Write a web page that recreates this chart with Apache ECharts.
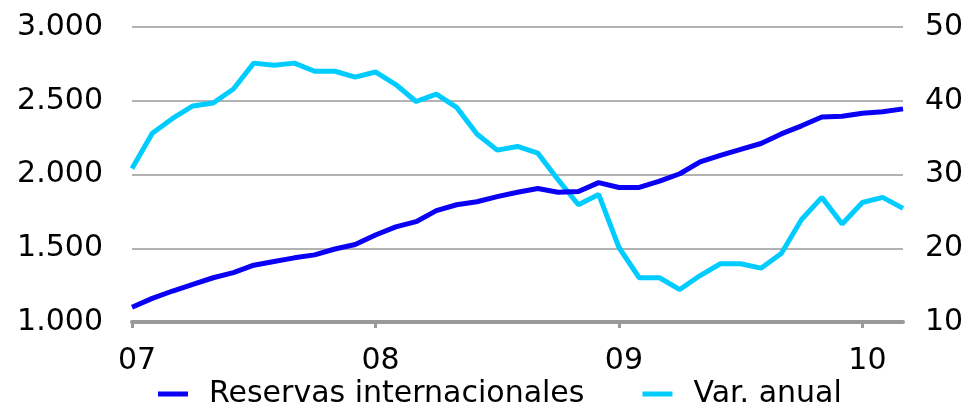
<!DOCTYPE html>
<html>
<head>
<meta charset="utf-8">
<script src="https://cdn.jsdelivr.net/npm/echarts@6/dist/echarts.min.js"></script>
<style>
  html, body { margin: 0; padding: 0; background: #fff; }
  #chart { width: 967px; height: 408px; }
</style>
</head>
<body>
<div id="chart"></div>
<script>
// monthly, Jan 2007 .. Mar 2010
var months = [
  "2007-01","2007-02","2007-03","2007-04","2007-05","2007-06","2007-07","2007-08","2007-09","2007-10","2007-11","2007-12",
  "2008-01","2008-02","2008-03","2008-04","2008-05","2008-06","2008-07","2008-08","2008-09","2008-10","2008-11","2008-12",
  "2009-01","2009-02","2009-03","2009-04","2009-05","2009-06","2009-07","2009-08","2009-09","2009-10","2009-11","2009-12",
  "2010-01","2010-02","2010-03"
];
var reservas = [
  1100, 1160, 1210, 1255, 1300, 1335, 1385, 1410, 1435, 1455, 1495, 1525,
  1590, 1645, 1680, 1755, 1795, 1815, 1850, 1880, 1905, 1880, 1885, 1945,
  1912, 1912, 1955, 2005, 2085, 2130, 2170, 2210, 2275, 2330, 2390, 2395,
  2415, 2425, 2445
];
var varAnual = [
  30.8, 35.6, 37.6, 39.3, 39.7, 41.6, 45.1, 44.8, 45.1, 44.0, 44.0, 43.2,
  43.9, 42.2, 39.9, 40.9, 39.1, 35.5, 33.3, 33.8, 32.9, 29.3, 25.9, 27.3,
  20.1, 16.0, 16.0, 14.4, 16.3, 17.9, 17.9, 17.3, 19.3, 23.9, 26.9, 23.3,
  26.2, 26.9, 25.4
];
var yearLabels = { "2007-01": "07", "2008-01": "08", "2009-01": "09", "2010-01": "10" };

var chart = echarts.init(document.getElementById("chart"));
var font = "DejaVu Sans";

var option = {
  animation: false,
  textStyle: { fontFamily: font },
  color: ["#0a00f5", "#00ccff"],
  grid: { left: 132, right: 64, top: 27, bottom: 86 },
  legend: {
    bottom: -6,
    left: 153,
    itemWidth: 30,
    itemHeight: 5,
    itemGap: 58,
    icon: "rect",
    textStyle: { fontSize: 30, color: "#000", fontFamily: font, padding: [0, 0, 0, 16] },
    data: ["Reservas internacionales", "Var. anual"]
  },
  xAxis: {
    type: "category",
    data: months,
    boundaryGap: false,
    axisLine: { lineStyle: { color: "#999", width: 4 } },
    axisTick: {
      length: 6,
      lineStyle: { color: "#999", width: 3 },
      interval: function (i, v) { return !!yearLabels[v]; }
    },
    axisLabel: {
      interval: function (i, v) { return !!yearLabels[v]; },
      formatter: function (v) { return yearLabels[v] || ""; },
      fontSize: 30,
      color: "#000",
      margin: 24,
      padding: [0, 0, 0, 10],
      fontFamily: font
    },
    splitLine: { show: false }
  },
  yAxis: [
    {
      type: "value",
      min: 1000,
      max: 3000,
      interval: 500,
      axisLine: { show: false },
      axisTick: { show: false },
      axisLabel: {
        fontSize: 30,
        color: "#000",
        margin: 29,
        fontFamily: font,
        formatter: function (v) { return (v / 1000).toFixed(3); }
      },
      splitLine: { lineStyle: { color: "#999", width: 1.5 } }
    },
    {
      type: "value",
      min: 10,
      max: 50,
      interval: 10,
      axisLine: { show: false },
      axisTick: { show: false },
      axisLabel: { fontSize: 30, color: "#000", margin: 22, fontFamily: font },
      splitLine: { show: false }
    }
  ],
  series: [
    {
      name: "Reservas internacionales",
      type: "line",
      yAxisIndex: 0,
      data: reservas,
      symbol: "none",
      lineStyle: { width: 5 },
      z: 3
    },
    {
      name: "Var. anual",
      type: "line",
      yAxisIndex: 1,
      data: varAnual,
      symbol: "none",
      lineStyle: { width: 5 },
      z: 2
    }
  ]
};
chart.setOption(option);
</script>
</body>
</html>
